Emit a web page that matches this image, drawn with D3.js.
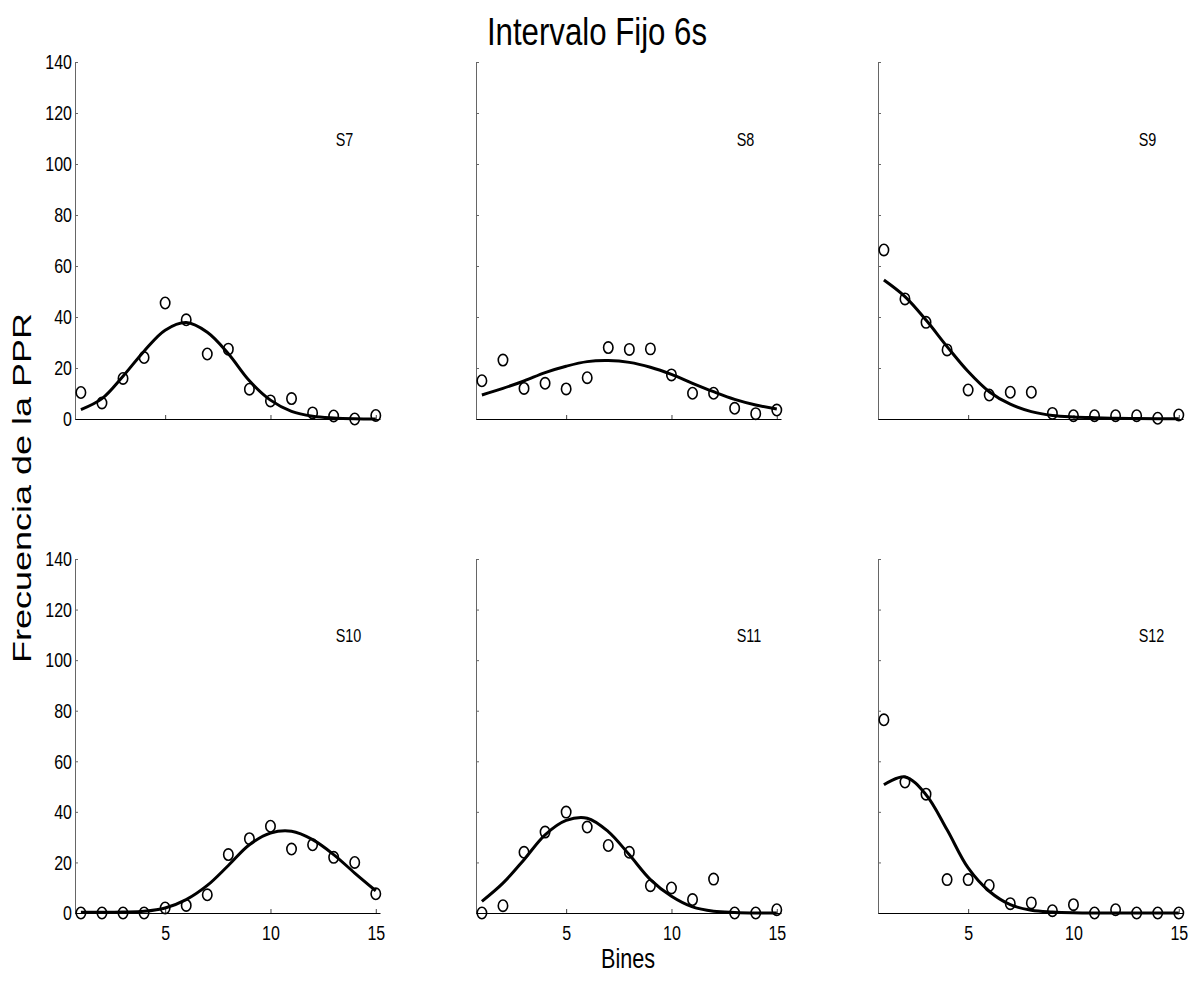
<!DOCTYPE html>
<html>
<head>
<meta charset="utf-8">
<script src="https://cdn.jsdelivr.net/npm/d3@7"></script>
<style>
  body { margin: 0; background: #fff; }
  svg { display: block; }
</style>
</head>
<body>
<div id="main"></div>
<script>
// datos
const titulo = "Intervalo Fijo 6s";
const sujetos = ["S7", "S8", "S9", "S10", "S11", "S12"];
const bines = [1, 2, 3, 4, 5, 6, 7, 8, 9, 10, 11, 12, 13, 14, 15];
const yTicks = [0, 20, 40, 60, 80, 100, 120, 140];
const xTicks = [5, 10, 15];

// frecuencias observadas (circulos)
const s7Obs  = [10.4, 6.3, 15.9, 24.1, 45.5, 38.9, 25.5, 27.4, 11.7, 7.1, 8.0, 2.4, 1.2, 0.0, 1.4];
const s8Obs  = [15.0, 23.1, 12.0, 14.0, 11.8, 16.2, 28.0, 27.3, 27.5, 17.3, 10.1, 10.1, 4.2, 2.1, 3.5];
const s9Obs  = [66.3, 47.1, 37.9, 27.1, 11.4, 9.4, 10.5, 10.5, 2.2, 1.3, 1.3, 1.3, 1.3, 0.3, 1.6];
const s10Obs = [0.0, 0.0, 0.0, 0.0, 2.0, 3.0, 7.2, 23.1, 29.4, 34.3, 25.3, 27.0, 22.0, 20.0, 7.6];
const s11Obs = [0.0, 2.9, 24.0, 32.0, 39.9, 34.0, 26.7, 24.0, 10.8, 9.9, 5.3, 13.4, 0.0, 0.0, 1.3];
const s12Obs = [76.4, 51.8, 47.0, 13.2, 13.2, 10.9, 3.7, 4.0, 0.9, 3.3, 0.0, 1.3, 0.0, 0.0, 0.0];

// curvas de ajuste (linea continua)
const s7Fit  = [3.7, 8.0, 16.8, 26.6, 34.8, 37.8, 34.0, 25.6, 15.0, 7.4, 3.0, 1.1, 0.4, 0.1, 0.0];
const s8Fit  = [9.4, 12.0, 14.9, 18.2, 20.7, 22.5, 22.9, 22.2, 20.3, 17.5, 14.0, 10.7, 7.7, 5.5, 3.9];
const s9Fit  = [54.5, 48.0, 38.8, 28.4, 18.6, 10.7, 5.8, 2.9, 1.4, 0.8, 0.5, 0.3, 0.2, 0.1, 0.1];
const s10Fit = [0.3, 0.3, 0.4, 0.7, 2.0, 5.3, 10.9, 18.8, 27.0, 31.6, 32.3, 29.0, 23.1, 15.8, 8.8];
const s11Fit = [4.6, 11.8, 21.1, 30.9, 36.6, 37.5, 32.2, 23.0, 13.2, 6.6, 2.4, 0.7, 0.2, 0.0, 0.0];
const s12Fit = [50.7, 53.8, 46.8, 32.9, 17.8, 8.6, 3.3, 1.1, 0.4, 0.1, 0.0, 0.0, 0.0, 0.0, 0.0];

const observados = [s7Obs, s8Obs, s9Obs, s10Obs, s11Obs, s12Obs];
const ajustes = [s7Fit, s8Fit, s9Fit, s10Fit, s11Fit, s12Fit];

const width = 1194, height = 983;
const fuente = "'Liberation Sans', Arial, Helvetica, sans-serif";
const sx = 0.8; // texto estrecho (la figura original esta estirada en vertical)

// posicion de los paneles
const colX = [75, 476, 878];
const panelW = 305;
const rowY = [[62, 419], [559, 913]];

function estrecho(sel, x, y, size) {
  return sel.attr("transform", `translate(${x},${y}) scale(${sx},1)`)
    .attr("font-family", fuente)
    .attr("font-size", size)
    .attr("fill", "#000");
}

function main() {
  const svg = d3.create("svg")
    .attr("width", width)
    .attr("height", height)
    .attr("viewBox", [0, 0, width, height]);

  sujetos.forEach((nombre, i) => {
    const col = i % 3, row = Math.floor(i / 3);
    const x = d3.scaleLinear().domain([0.72, 15.2]).range([colX[col], colX[col] + panelW]);
    const y = d3.scaleLinear().domain([0, 140]).range([rowY[row][1], rowY[row][0]]);

    const g = svg.append("g");

    // eje y
    const ay = g.append("g")
      .attr("transform", `translate(${colX[col]},0)`)
      .call(d3.axisLeft(y).tickValues(yTicks).tickSizeInner(-3).tickSizeOuter(0)
        .tickFormat(col === 0 ? d3.format("d") : ""));
    ay.select(".domain").attr("stroke", "#666");
    ay.selectAll(".tick line").attr("stroke", "#666");
    ay.selectAll(".tick text")
      .attr("x", null).attr("dy", "0.34em")
      .each(function() { estrecho(d3.select(this), -3, 0, 20); });

    // eje x
    const ax = g.append("g")
      .attr("transform", `translate(0,${rowY[row][1]})`)
      .call(d3.axisBottom(x).tickValues(xTicks).tickSizeInner(-4).tickSizeOuter(0)
        .tickFormat(row === 1 ? d3.format("d") : ""));
    ax.select(".domain").attr("stroke", "#000");
    ax.selectAll(".tick line").attr("stroke", "#444");
    ax.selectAll(".tick text")
      .attr("y", null).attr("dy", "0.71em")
      .each(function() { estrecho(d3.select(this), 0, 13, 20); });

    // curva de ajuste
    const line = d3.line()
      .curve(d3.curveCatmullRom.alpha(0.5))
      .x((d, j) => x(bines[j]))
      .y(d => y(d));

    g.append("path")
      .datum(ajustes[i])
      .attr("fill", "none")
      .attr("stroke", "#000")
      .attr("stroke-width", 3)
      .attr("stroke-linejoin", "round")
      .attr("d", line);

    // puntos observados
    g.append("g")
      .selectAll("ellipse")
      .data(observados[i])
      .join("ellipse")
        .attr("cx", (d, j) => x(bines[j]))
        .attr("cy", d => y(d))
        .attr("rx", 4.7)
        .attr("ry", 5.7)
        .attr("fill", "none")
        .attr("stroke", "#000")
        .attr("stroke-width", 1.6);

    // etiqueta del sujeto
    estrecho(g.append("text"), x(13.1), y(107), 18).text(nombre);
  });

  estrecho(svg.append("text"), 597, 45, 39)
    .attr("text-anchor", "middle")
    .text(titulo);

  estrecho(svg.append("text"), 628, 968, 27)
    .attr("text-anchor", "middle")
    .text("Bines");

  svg.append("text")
    .attr("transform", "translate(31,488) rotate(-90)")
    .attr("text-anchor", "middle")
    .attr("font-family", fuente)
    .attr("font-size", 25)
    .attr("textLength", 350)
    .attr("lengthAdjust", "spacingAndGlyphs")
    .text("Frecuencia de la PPR");

  return svg.node();
}

document.getElementById("main").appendChild(main());
</script>
</body>
</html>
